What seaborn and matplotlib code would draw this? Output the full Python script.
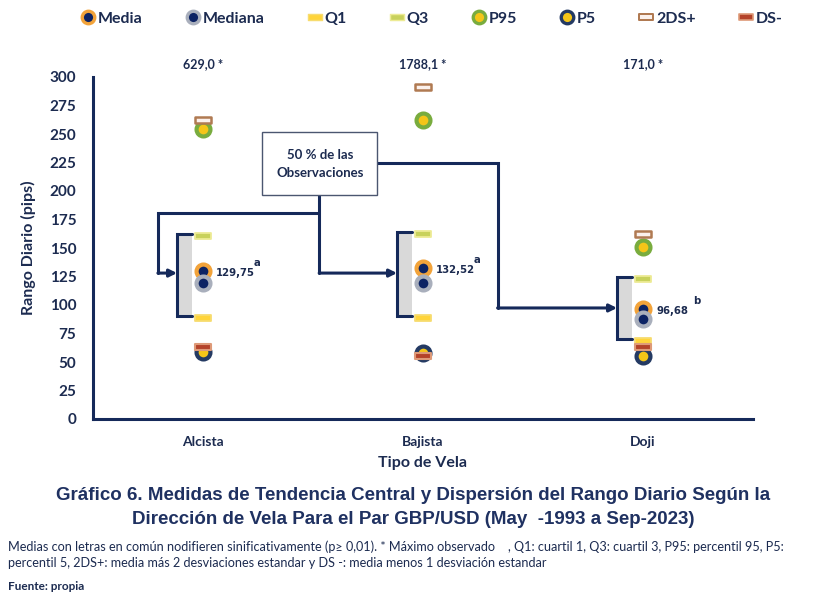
import numpy as np
import pandas as pd
import matplotlib
matplotlib.use("Agg")
import matplotlib.pyplot as plt
import seaborn as sns
from matplotlib.path import Path
from matplotlib.lines import Line2D
from matplotlib.patches import Rectangle

# ---------------- data ----------------
categories = ["Alcista", "Bajista", "Doji"]
media = [129.75, 132.52, 96.68]
mediana = [119.0, 119.0, 88.0]
q1 = [88.6, 88.6, 68.4]
q3 = [160.5, 162.0, 123.0]
p95 = [254.0, 262.0, 151.0]
p5 = [59.0, 58.0, 55.0]
ds2_plus = [262.0, 291.0, 162.0]
ds_minus = [63.0, 55.0, 63.5]
maximo_labels = ["629,0 *", "1788,1 *", "171,0 *"]
media_labels = ["129,75", "132,52", "96,68"]
letras = ["a", "a", "b"]
yticks = list(range(0, 301, 25))

# ---------------- style ----------------
sns.set_style("white")
plt.rcParams["font.family"] = ["Lato", "DejaVu Sans"]
NAVY = "#15295A"
TXT = "#1C2B50"

fig = plt.figure(figsize=(8.27, 6.04), dpi=100)
ax = fig.add_axes([93 / 827, 1 - 419 / 604, (753 - 93) / 827, (419 - 77) / 604])

rect_path = Path([(-1, -0.38), (1, -0.38), (1, 0.38), (-1, 0.38), (-1, -0.38)],
                 [Path.MOVETO, Path.LINETO, Path.LINETO, Path.LINETO, Path.CLOSEPOLY])

# name, values, marker, face, edge, size, lw, zorder
series = [
    ("Media", media, "o", "#0C2364", "#F2A33A", 100, 3.0, 5),
    ("Mediana", mediana, "o", "#0C2364", "#A9AFBC", 100, 3.0, 6),
    ("Q1", q1, rect_path, "#FFD43A", "#F7DC6F", 130, 1.3, 7),
    ("Q3", q3, rect_path, "#C8D15C", "#EDEB95", 130, 1.3, 7),
    ("P95", p95, "o", "#F5C518", "#79AC3E", 100, 3.0, 4),
    ("P5", p5, "o", "#F5C518", "#243A63", 100, 3.0, 4),
    ("2DS+", ds2_plus, rect_path, "#FBF1EC", "#B07A52", 130, 1.8, 8),
    ("DS-", ds_minus, rect_path, "#B4432A", "#DE9A78", 130, 1.5, 8),
]

# bracket / box for 50% of observations
for i in range(len(categories)):
    top = q3[i] + 2
    bot = q1[i] + 2
    ax.add_patch(Rectangle((i - 0.118, bot), 0.068, top - bot,
                           facecolor="#D9D9D9", edgecolor="none", zorder=1))
    ax.plot([i - 0.05, i - 0.118, i - 0.118, i - 0.05], [top, top, bot, bot],
            color=NAVY, lw=2.2, solid_joinstyle="miter", zorder=2)

for name, vals, mk, fc, ec, s, lw, z in series:
    df = pd.DataFrame({"cat": categories, "val": vals})
    sns.scatterplot(data=df, x="cat", y="val", marker=mk, s=s, color=fc,
                    edgecolor=ec, linewidth=lw, ax=ax, zorder=z, legend=False)

# media labels and letters
for i in range(len(categories)):
    ax.text(i + 0.06, media[i] - 2, media_labels[i], fontsize=7.3, fontweight="bold",
            family="DejaVu Sans", color=TXT, va="center", ha="left")
    ax.text(i + 0.23, media[i] + 7, letras[i], fontsize=7.3, fontweight="bold",
            family="DejaVu Sans", color=TXT, va="center", ha="left")
    ax.text(i, 311.5, maximo_labels[i], fontsize=9, fontweight="bold",
            color=TXT, ha="center", va="center", clip_on=False)

# annotation box
ax.add_patch(Rectangle((0.269, 196.5), 0.524, 55.3, facecolor="white",
                       edgecolor="#4B5670", lw=1.0, zorder=3))
ax.text(0.531, 224, "50 % de las\nObservaciones", ha="center", va="center",
        fontsize=9.5, fontweight="bold", color=TXT, linespacing=1.6, zorder=4)

line_kw = dict(color=NAVY, lw=2.2, solid_joinstyle="miter", zorder=2)
arrow_kw = dict(arrowstyle="-|>", color=NAVY, lw=2.2, mutation_scale=11,
                shrinkA=0, shrinkB=0)
ax.plot([0.528, 0.528], [196.5, 128], **line_kw)
ax.plot([0.528, -0.205, -0.205], [180.7, 180.7, 128], **line_kw)
ax.annotate("", xy=(-0.118, 128), xytext=(-0.205, 128), arrowprops=arrow_kw)
ax.annotate("", xy=(0.882, 128), xytext=(0.528, 128), arrowprops=arrow_kw)
ax.plot([0.793, 1.339, 1.339], [224.6, 224.6, 97.4], **line_kw)
ax.annotate("", xy=(1.882, 97.4), xytext=(1.339, 97.4), arrowprops=arrow_kw)

# axes
ax.set_xlim(-0.5, 2.5)
ax.set_ylim(0, 300)
ax.set_yticks(yticks)
ax.set_yticks(np.arange(12.5, 300, 25), minor=True)
ax.set_xticks(range(len(categories)))
ax.set_xticklabels(categories)
for sp in ["top", "right"]:
    ax.spines[sp].set_visible(False)
for sp in ["left", "bottom"]:
    ax.spines[sp].set_color(NAVY)
    ax.spines[sp].set_linewidth(2.2)
ax.tick_params(axis="y", which="major", length=4, width=1.8, color=NAVY,
               labelsize=11, labelcolor=TXT, pad=8)
ax.tick_params(axis="y", which="minor", length=3, width=1.5, color=NAVY)
ax.tick_params(axis="x", length=0, labelsize=10, labelcolor=TXT, pad=12)
for lab in ax.get_yticklabels() + ax.get_xticklabels():
    lab.set_fontweight("bold")
ax.set_xlabel("Tipo de Vela", fontsize=11.5, fontweight="bold", color=TXT, labelpad=6)
ax.set_ylabel("Rango Diario (pips)", fontsize=11.5, fontweight="bold", color=TXT, labelpad=10)

# legend
handles = []
for name, vals, mk, fc, ec, s, lw, z in series:
    ms = 9 if mk == "o" else 10
    handles.append(Line2D([], [], ls="None", marker=mk, markersize=ms,
                          markerfacecolor=fc, markeredgecolor=ec,
                          markeredgewidth=lw * 0.8))
leg = fig.legend(handles, [s_[0] for s_ in series], loc="center",
                 bbox_to_anchor=(0.522, 1 - 19 / 604), ncol=8, frameon=False,
                 handletextpad=0.15, columnspacing=2.7, handlelength=0.9,
                 prop={"weight": "bold", "size": 11.5})
for t in leg.get_texts():
    t.set_color(TXT)

# titles and notes
fig.text(0.5, 1 - 495 / 604,
         "Gráfico 6. Medidas de Tendencia Central y Dispersión del Rango Diario Según la",
         ha="center", va="center", fontsize=13.5, fontweight="bold",
         family=["Liberation Sans", "DejaVu Sans"], color="#1F3161")
fig.text(0.5, 1 - 520 / 604,
         "Dirección de Vela Para el Par GBP/USD (May  -1993 a Sep-2023)",
         ha="center", va="center", fontsize=13.5, fontweight="bold",
         family=["Liberation Sans", "DejaVu Sans"], color="#1F3161")
note_fam = ["Lato", "DejaVu Sans"]
fig.text(8 / 827, 1 - 547 / 604,
         "Medias con letras en común nodifieren sinificativamente (p≥ 0,01). * Máximo observado    , Q1: cuartil 1, Q3: cuartil 3, P95: percentil 95, P5:",
         ha="left", va="center", fontsize=9.1, family=note_fam, color=TXT)
fig.text(8 / 827, 1 - 563 / 604,
         "percentil 5, 2DS+: media más 2 desviaciones estandar y DS -: media menos 1 desviación estandar",
         ha="left", va="center", fontsize=9.1, family=note_fam, color=TXT)
fig.text(8 / 827, 1 - 586 / 604, "Fuente: propia", ha="left", va="center",
         fontsize=8.5, fontweight="bold", family=note_fam, color=TXT)

fig.savefig("out.png", dpi=100)
